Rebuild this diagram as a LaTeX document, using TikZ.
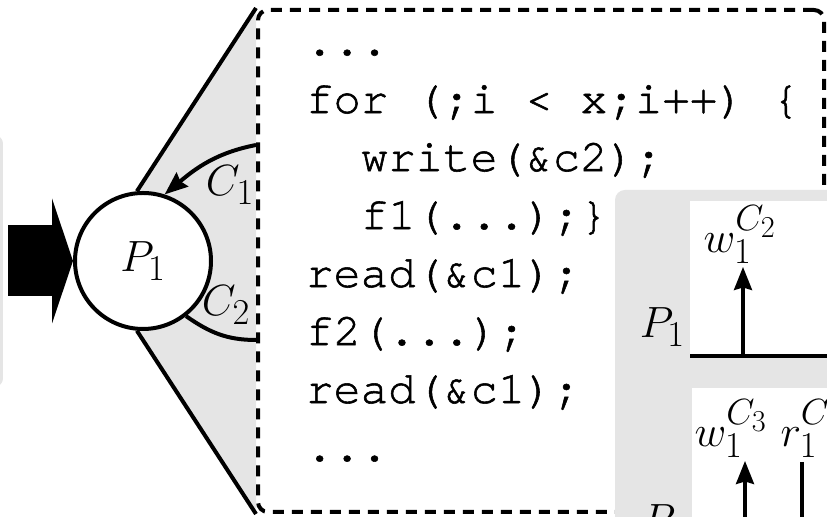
\RequirePackage{fix-cm}
\documentclass[tikz,border=0pt]{standalone}
\usepackage{fontspec}
\newfontfamily\cursorfont[FakeBold=1.2]{texgyrecursor-regular.otf}
\usetikzlibrary{arrows.meta,backgrounds}
\definecolor{lightgrey}{gray}{0.9}
\newcommand{\codefont}{\cursorfont\fontsize{26}{33}\selectfont}
\newcommand{\labfont}{\Huge}
\begin{document}
\begin{tikzpicture}[line width=0.08cm,
		proc/.style={circle, draw, fill=white, minimum size=2.72cm, inner sep=0pt, font=\labfont},
		lab/.style={font=\labfont, inner sep=0.06cm},
		lane/.style={anchor=north west, fill=white, minimum width=4cm, inner sep=0pt, outer sep=0pt},
		tip/.style={-{Stealth[length=0.46cm, width=0.36cm, inset=0.05cm]}}]
		
		\useasboundingbox (0,0) rectangle (16.54,10.34);
		\clip (0,0) rectangle (16.54,10.34);
		
		% Main shapes
		\node[fill=lightgrey, rounded corners=0.16cm, minimum width=3cm, minimum height=5.02cm, outer sep=0pt, anchor=east] (inbox) at (0.06,5.12) {};
		\node[proc] (p1) at (2.86,5.12) {$P_1$};
		\node[draw, dash pattern=on 0.22cm off 0.16cm, rounded corners=0.2cm, fill=white, minimum width=11.32cm, minimum height=10.04cm] (codebox) at (10.82,5.12) {};
		
		% Code (base is the last line)
		\node[font=\codefont, align=left, anchor=base west, inner sep=0pt] (src) at (6.08,1.12) {...\\for (;i < x;i++) \{\\\hspace*{1.2em}write(\&c2);\\\hspace*{1.2em}f1(...);\}\\read(\&c1);\\f2(...);\\read(\&c1);\\...};
		
		% Fan behind the process
		\begin{scope}[on background layer]
			\fill[lightgrey] (p1.95) -- (codebox.north west) -- (codebox.south west) -- (p1.265) -- cycle;
			\draw[line width=0.08cm] (p1.95) -- (codebox.north west);
			\draw[line width=0.08cm] (p1.265) -- (codebox.south west);
		\end{scope}
		
		% Channels
		\coordinate (c1in) at ([yshift=2.32cm]codebox.west);
		\coordinate (c2in) at ([yshift=-1.58cm]codebox.west);
		\draw[tip] (c1in) to[out=191, in=40] (p1.72);
		\draw (p1.-52) to[out=-35, in=180] (c2in);
		
		% Input arrow
		\draw[line width=1.42cm, shorten <=0.1cm, -{Triangle[length=0.42cm, width=2.5cm, line width=0pt 0 0]}] (inbox.east) -- (p1.west);
		
		% Timeline panel
		\node[fill=lightgrey, rounded corners=0.2cm, anchor=north west, outer sep=0pt, minimum width=6cm, minimum height=8cm] (panel) at (12.30,6.54) {};
		\node[lane, minimum height=3.1cm] (lane1) at (13.80,6.32) {};
		\node[lane, minimum height=3.3cm] (lane2) at (13.84,2.58) {};
		\draw (lane1.south west) -- (lane1.south east);
		\draw (lane2.south west) -- (lane2.south east);
		
		% Events
		\node[lab, anchor=south, outer sep=0pt] (wa) at (14.80,5.00) {$w_1^{C_2}$};
		\coordinate (ta) at (14.86,3.22);
		\draw[tip, line width=0.066cm] (ta) -- (ta |- wa.south);
		
		\node[lab, anchor=south, outer sep=0pt] (wb) at (14.62,1.12) {$w_1^{C_3}$};
		\coordinate (tb) at (14.90,-0.72);
		\draw[tip, line width=0.066cm] (tb) -- (tb |- wb.south);
		\node[lab, anchor=base west] (rb) at ([xshift=0.1cm]wb.base east) {$r_1^{C_2}$};
		\coordinate (rt) at (16.04,1.10);
		\draw[tip, line width=0.066cm] (rt) -- (rt |- lane2.south);
		
		% Labels
		\node[lab] (c1) at (4.60,6.64) {$C_1$};
		\node[lab] (c2) at (4.52,4.24) {$C_2$};
		\node[lab, anchor=base east] (lp1) at ([yshift=0.36cm]lane1.south west) {$P_1$};
		\node[lab, anchor=base east] (lp2) at ([yshift=0.36cm]lane2.south west) {$P_2$};
		
	\end{tikzpicture}
\end{document}
